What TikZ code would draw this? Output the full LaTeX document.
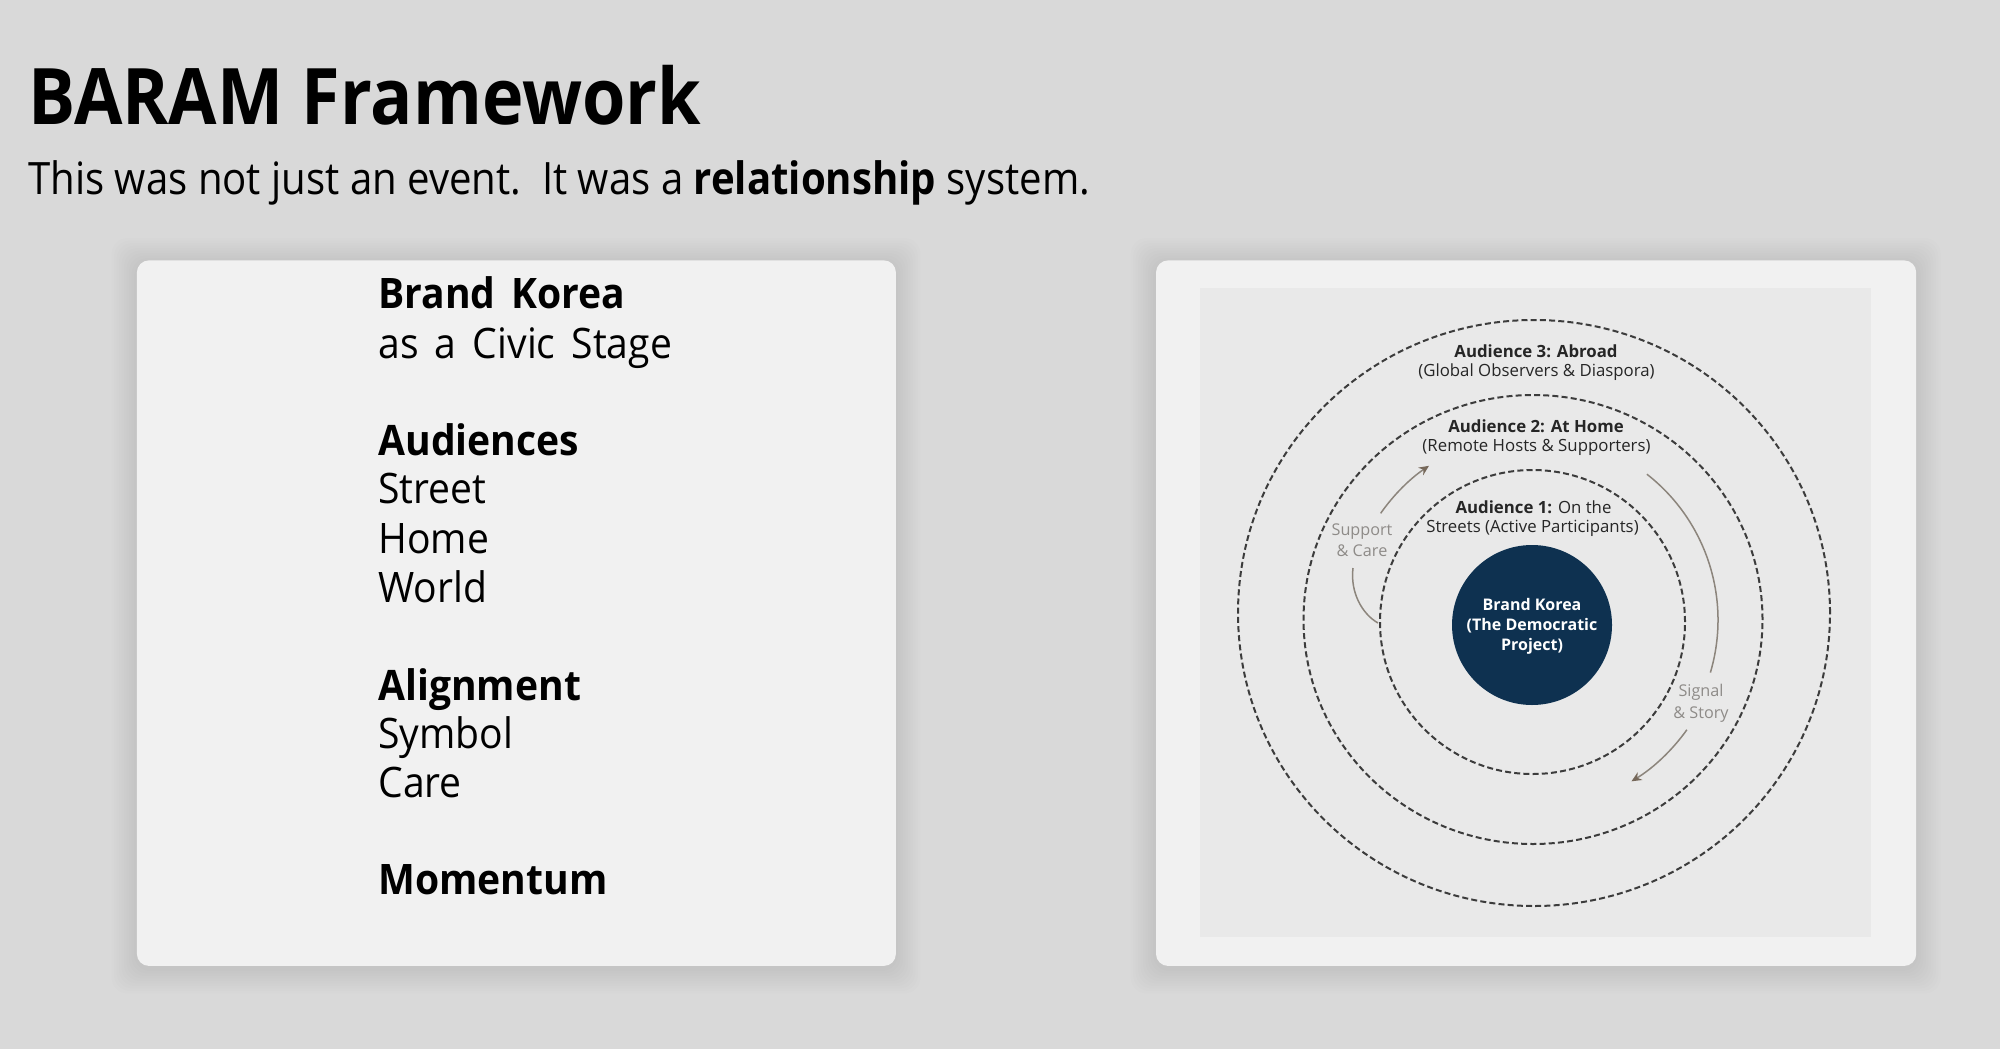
\documentclass[tikz,border=0pt]{standalone}
\usepackage{fontspec}
\setmainfont{Open Sans}
\newfontfamily\mainfnt{Open Sans}[FakeStretch=0.9]
\newfontfamily\listfnt{Open Sans}[FakeStretch=0.93, WordSpace=1.6]
\newfontfamily\diagfnt{Open Sans}
\usetikzlibrary{arrows.meta,shapes.geometric,calc}
\definecolor{bgc}{HTML}{D9D9D9}
\definecolor{cardc}{HTML}{F1F1F1}
\definecolor{panelc}{HTML}{E9E9E9}
\definecolor{navyc}{HTML}{0E3150}
\definecolor{ringc}{HTML}{3C3C3C}
\definecolor{arrowc}{HTML}{8C857C}
\definecolor{tipc}{HTML}{76685A}
\definecolor{labelc}{HTML}{8E8B88}
\definecolor{dtext}{HTML}{262626}
\tikzset{
  cardbox/.style={fill=cardc, rounded corners=6pt, inner sep=0pt, anchor=north west},
  lefttxt/.style={anchor=base west, inner sep=0pt, font=\listfnt\fontsize{21}{24.5}\selectfont, text=black},
  ringbox/.style={ellipse, draw=ringc, line width=1pt, dash pattern=on 3pt off 1.6pt, inner sep=0pt},
  dlabel/.style={anchor=base, inner sep=0pt, font=\diagfnt\fontsize{8.4}{10}\selectfont, text=dtext},
  flowlabel/.style={anchor=base, inner sep=0pt, font=\diagfnt\fontsize{8.1}{10}\selectfont, text=labelc},
  corelabel/.style={anchor=base, inner sep=0pt, font=\diagfnt\bfseries\fontsize{8}{10}\selectfont, text=white},
  flowarrow/.style={draw=arrowc, line width=0.75pt},
  flowtip/.style={flowarrow, -{Stealth[length=5pt,width=4.5pt,color=tipc]}}
}
\begin{document}
\begin{tikzpicture}[x=0.5pt,y=-0.5pt]
\useasboundingbox (0,0) rectangle (2000,1049);
\fill[bgc] (0,0) rectangle (2000,1049);

% title
\node[anchor=base west, inner sep=0pt, font=\mainfnt\bfseries\fontsize{39}{47}\selectfont] (title) at (28,124) {BARAM Framework};
\node[anchor=base west, inner sep=0pt, font=\mainfnt\fontsize{22.3}{26}\selectfont] (subtitle) at (28,194) {This was not just an event.\ \ It was a \textbf{relationship} system.};

% shadows
\foreach \xa/\ya/\xb/\yb in {136.5/260/895.5/965.5, 1155.6/260/1915.8/965.5}{
  \foreach \i in {1,...,10}{
    \fill[black, opacity=0.006, rounded corners=8pt] (\xa-\i*2.5,\ya-\i*2.5+3) rectangle (\xb+\i*2.5,\yb+\i*2.5+3);
  }
}

% cards
\node[cardbox, minimum width=379.5pt, minimum height=352.75pt] (leftcard) at (136.5,260) {};
\node[cardbox, minimum width=380.1pt, minimum height=352.75pt] (rightcard) at (1155.6,260) {};
\node[fill=panelc, inner sep=0pt, anchor=north west, minimum width=335.5pt, minimum height=324.5pt] (panel) at (1200,288) {};

% left text
\node[lefttxt] (t1) at (378,308.7) {\textbf{Brand Korea}};
\node[lefttxt] (t2) at (378,358.4) {as a Civic Stage};
\node[lefttxt] (t3) at (378,455.4) {\textbf{Audiences}};
\node[lefttxt] (t4) at (378,503.8) {Street};
\node[lefttxt] (t5) at (378,553.6) {Home};
\node[lefttxt] (t6) at (378,602) {World};
\node[lefttxt] (t7) at (378,700.3) {\textbf{Alignment}};
\node[lefttxt] (t8) at (378,748.7) {Symbol};
\node[lefttxt] (t9) at (378,797.2) {Care};
\node[lefttxt] (t10) at (378,894.1) {\textbf{Momentum}};

% rings
\node[ringbox, minimum width=296pt, minimum height=293pt] (aud3) at (1534,613) {};
\node[ringbox, minimum width=229.5pt, minimum height=224.5pt] (aud2) at (1533,619.5) {};
\node[ringbox, minimum width=152.5pt, minimum height=152pt] (aud1) at (1532.5,622) {};
\node[circle, fill=navyc, inner sep=0pt, minimum size=80pt] (core) at (1532,625) {};
\coordinate (ctr) at (1533,620);

% ring labels
\node[dlabel] (a3a) at (1536,357) {\textbf{Audience 3: Abroad}};
\node[dlabel] (a3b) at (1536.5,376) {(Global Observers \& Diaspora)};
\node[dlabel] (a2a) at (1536,432) {\textbf{Audience 2: At Home}};
\node[dlabel] (a2b) at (1536.5,451) {(Remote Hosts \& Supporters)};
\node[dlabel] (a1a) at (1533.5,513) {\textbf{Audience 1:} On the};
\node[dlabel] (a1b) at (1532.5,532) {Streets (Active Participants)};

% core labels
\node[corelabel] (c1) at (1532,610) {Brand Korea};
\node[corelabel] (c2) at (1532,630) {(The Democratic};
\node[corelabel] (c3) at (1532,650.5) {Project)};

% flow labels
\node[flowlabel] (s1) at (1362,535) {Support};
\node[flowlabel] (s2) at (1362,556) {\& Care};
\node[flowlabel] (g1) at (1701,696.5) {Signal};
\node[flowlabel] (g2) at (1701,718) {\& Story};

% flow arrows
\coordinate (sa0) at (1378,623);
\coordinate (sa1) at (1353,568);
\coordinate (sa2) at ($(ctr)+(-145:186)$);
\coordinate (ga1) at ($(ctr)+(-52:185)$);
\coordinate (ga2) at ($(ctr)+(35.5:189)$);
\draw[flowarrow] (sa0) .. controls (1362,614) and (1350,592) .. (sa1);
\draw[flowtip] (sa2) arc[start angle=-145, end angle=-124, radius=186];
\draw[flowarrow] (ga1) arc[start angle=-52, end angle=16.5, radius=185];
\draw[flowtip] (ga2) arc[start angle=35.5, end angle=58.6, radius=189];
\end{tikzpicture}
\end{document}
